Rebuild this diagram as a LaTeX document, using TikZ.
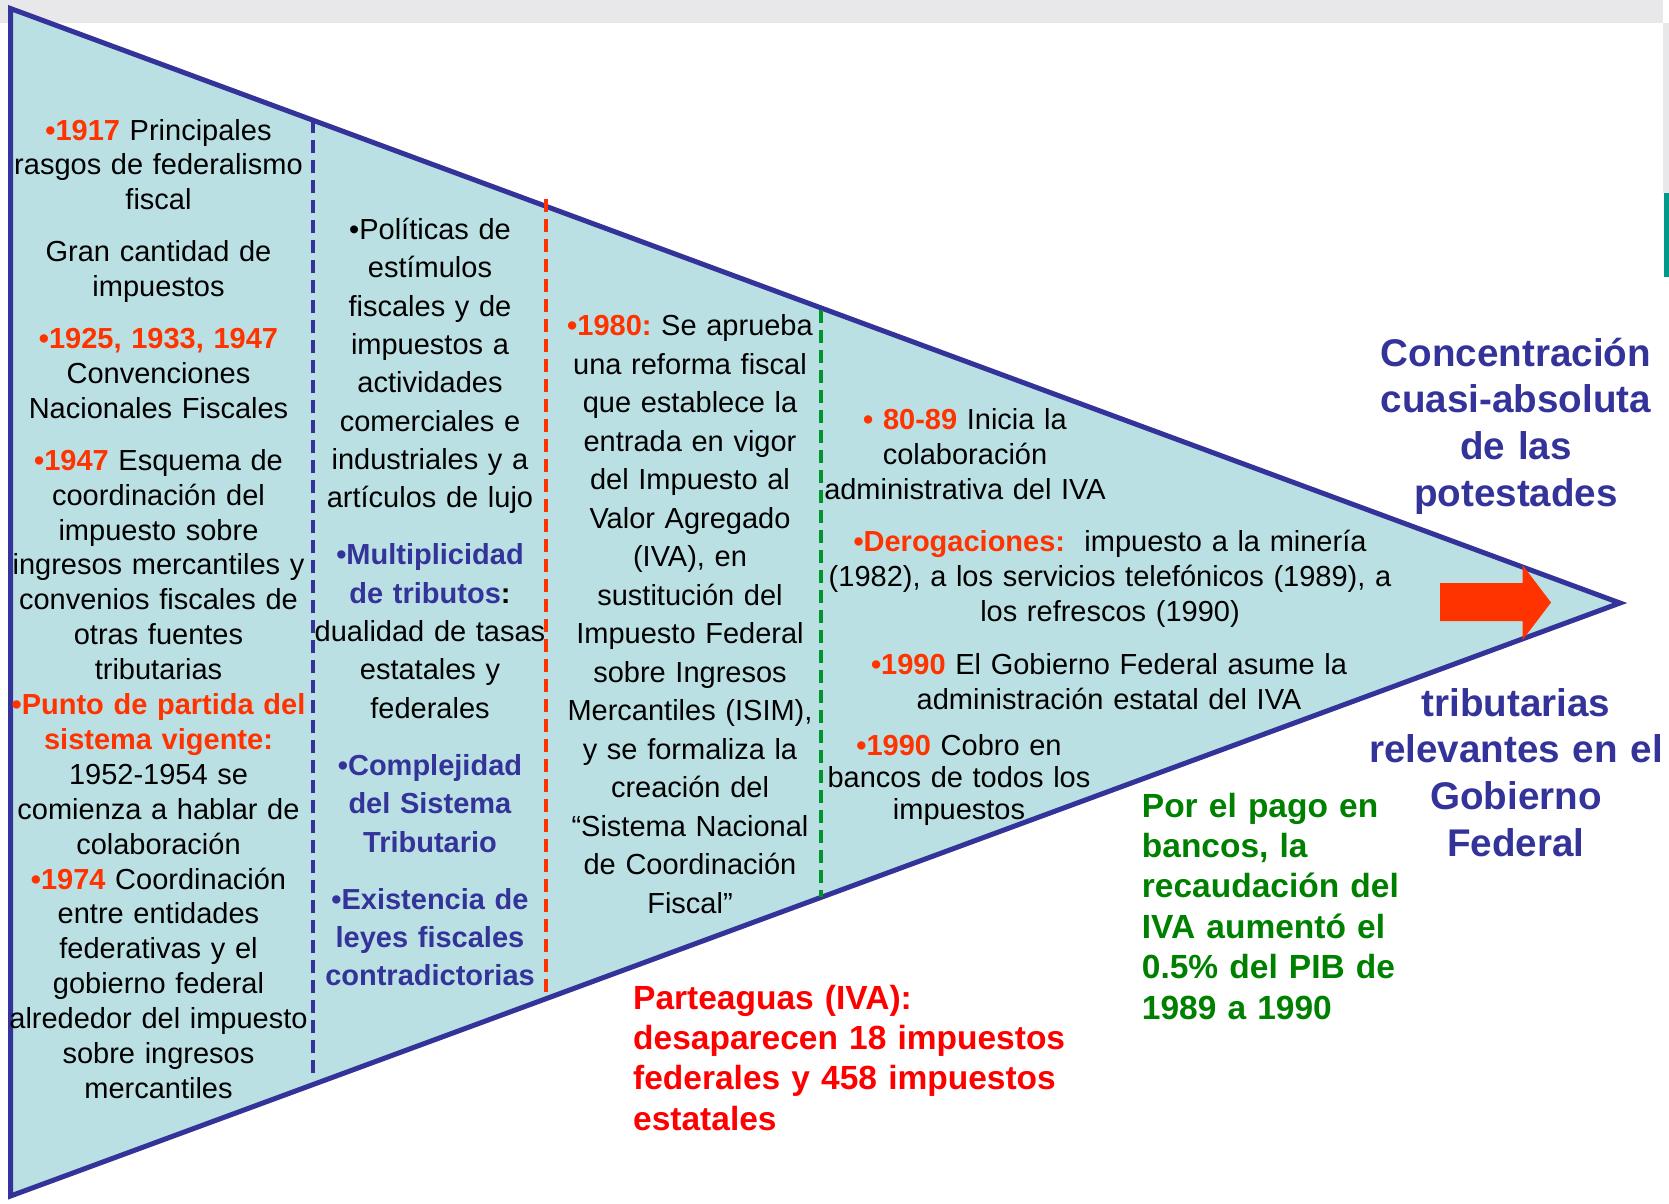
\documentclass[tikz,border=0pt]{standalone}
\usepackage{fontspec}
\setmainfont{Liberation Sans}
\definecolor{triline}{HTML}{333399}
\definecolor{trifill}{HTML}{BBE0E3}
\definecolor{redc}{HTML}{FF3300}
\definecolor{redn}{HTML}{FF0000}
\definecolor{bluet}{HTML}{333399}
\definecolor{greent}{HTML}{008000}
\definecolor{bandc}{HTML}{E8E8EA}
\definecolor{tealc}{HTML}{00998A}
\definecolor{dashgreen}{HTML}{00952A}
\newcommand{\redb}[1]{\textcolor{redc}{\textbf{#1}}}
\newcommand{\blueb}[1]{\textcolor{bluet}{\textbf{#1}}}
\begin{document}
\begin{tikzpicture}[x=1pt,y=-1pt,
  txt/.style={inner sep=0pt, anchor=base, align=center, text width=#1, font=\fontsize{29}{35}\selectfont, text=black},
  txt/.default=330pt,
  wide/.style={font=\fontsize{29}{38.3}\selectfont},
  sep/.style={line width=3.6pt, dash pattern=on 13pt off 7pt},
  bigblue/.style={inner sep=0pt, anchor=base, align=center, text width=360pt, text=bluet, font=\fontsize{38.6}{46.8}\selectfont\bfseries},
  note/.style={inner sep=0pt, anchor=base west, align=left, text width=#1, font=\fontsize{33.5}{40.4}\selectfont\bfseries}
]
\useasboundingbox (0,0) rectangle (1669,1203);
% background decorations
\fill[bandc] (0,0) rectangle (1663,23);
\fill[bandc] (1663,23) rectangle (1669,193);
\fill[tealc] (1664,193) rectangle (1669,277);
% triangle
\coordinate (tl) at (10.5,8.5);
\coordinate (bl) at (10.5,1196);
\coordinate (tip) at (1620,603);
\filldraw[fill=trifill, draw=triline, line width=5pt] (tl) -- (tip) -- (bl) -- cycle;
% separators
\coordinate (b1t) at (313,120);  \coordinate (b1b) at (313,1074);
\coordinate (r1t) at (546,199);  \coordinate (r1b) at (546,999);
\coordinate (g1t) at (821,310);  \coordinate (g1b) at (821,897);
\draw[sep, triline] (b1t) -- (b1b);
\draw[sep, redc] (r1t) -- (r1b);
\draw[sep, dashgreen] (g1t) -- (g1b);
% arrow
\fill[redc] (1440,583) -- (1522.5,583) -- (1522.5,565) -- (1551,602.5) -- (1522.5,640) -- (1522.5,621) -- (1440,621) -- cycle;
% column 1
\node[txt, font=\fontsize{29}{34.9}\selectfont] (c1) at (158.5,140) {\redb{•1917} Principales\\rasgos de federalismo\\fiscal\\[17pt]Gran cantidad de\\impuestos\\[17pt]\redb{•1925, 1933, 1947}\\Convenciones\\Nacionales Fiscales\\[17pt]\redb{•1947} Esquema de\\coordinación del\\impuesto sobre\\ingresos mercantiles y\\convenios fiscales de\\otras fuentes\\tributarias\\\redb{•Punto de partida del}\\\redb{sistema vigente:}\\1952-1954 se\\comienza a hablar de\\colaboración\\\redb{•1974} Coordinación\\entre entidades\\federativas y el\\gobierno federal\\alrededor del impuesto\\sobre ingresos\\mercantiles};
% column 2
\node[txt=300pt, wide] (c2) at (430,239.5) {•Políticas de\\estímulos\\fiscales y de\\impuestos a\\actividades\\comerciales e\\industriales y a\\artículos de lujo\\[19pt]\blueb{•Multiplicidad}\\\blueb{de tributos}\textbf{:}\\dualidad de tasas\\estatales y\\federales\\[19pt]\blueb{•Complejidad}\\\blueb{del Sistema}\\\blueb{Tributario}\\[19pt]\blueb{•Existencia de}\\\blueb{leyes fiscales}\\\blueb{contradictorias}};
% column 3
\node[txt=320pt, font=\fontsize{29}{38.5}\selectfont] (c3) at (690,335.5) {\redb{•1980:}~Se aprueba\\una reforma fiscal\\que establece la\\entrada en vigor\\del Impuesto al\\Valor Agregado\\(IVA), en\\sustitución del\\Impuesto Federal\\sobre Ingresos\\Mercantiles (ISIM),\\y se formaliza la\\creación del\\“Sistema Nacional\\de Coordinación\\Fiscal”};
% column 4
\node[txt] (c4a) at (965,429) {\redb{• 80-89} Inicia la\\colaboración\\administrativa del IVA};
\node[txt=620pt] (c4b) at (1110,551.6) {\redb{•Derogaciones:}\ \ impuesto a la minería\\(1982), a los servicios telefónicos (1989), a\\los refrescos (1990)};
\node[txt=560pt] (c4c) at (1109,674) {\redb{•1990} El Gobierno Federal asume la\\administración estatal del IVA};
\node[txt, font=\fontsize{29}{32}\selectfont] (c4d) at (959,755) {\redb{•1990} Cobro en\\bancos de todos los\\impuestos};
% right side
\node[bigblue] (conc) at (1516,366) {Concentración\\cuasi-absoluta\\de las\\potestades};
\node[bigblue] (trib) at (1516,716) {tributarias\\relevantes en el\\Gobierno\\Federal};
% notes
\node[note=320pt, text=greent] (pago) at (1141.7,817) {Por el pago en\\bancos, la\\recaudación del\\IVA aumentó el\\0.5\% del PIB de\\1989 a 1990};
\node[note=500pt, text=redn] (parte) at (633,1009) {Parteaguas (IVA):\\desaparecen 18 impuestos\\federales y 458 impuestos\\estatales};
\end{tikzpicture}
\end{document}
